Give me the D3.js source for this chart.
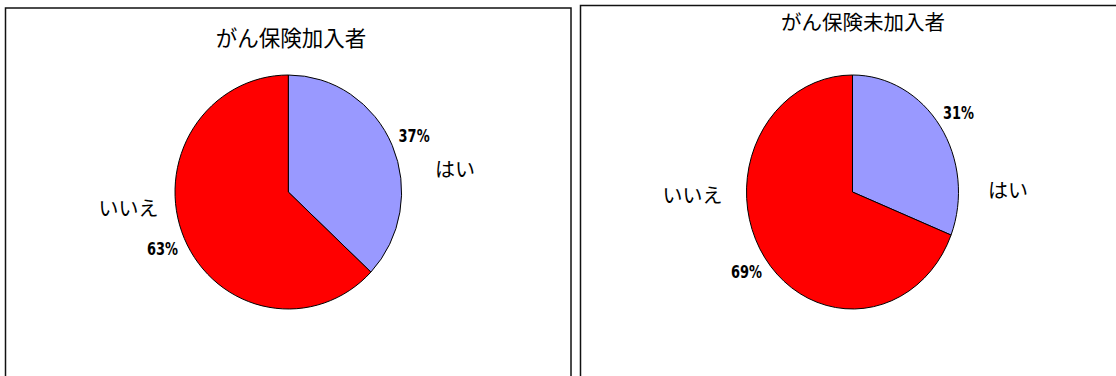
<!DOCTYPE html>
<html>
<head>
<meta charset="utf-8">
<script src="https://cdn.jsdelivr.net/npm/d3@7"></script>
<style>
  html, body { margin: 0; padding: 0; background: #fff; }
  svg { display: block; }
  .cjk { font-family: "Noto Sans CJK JP", "Noto Sans", sans-serif; fill: #000; }
  .pct { font-family: "DejaVu Sans", sans-serif; font-weight: bold; fill: #000; }
</style>
</head>
<body>
<svg id="chart" width="1116" height="376"></svg>
<script>
// Survey answers, split by whether the respondent holds cancer insurance
const categories = ["はい", "いいえ"];
const insuredValues = [37, 63];
const uninsuredValues = [31, 69];
const panelTitles = ["がん保険加入者", "がん保険未加入者"];
const sliceColors = ["#9999ff", "#ff0000"];

// Panel layout: frame, pie centre and radii (x radius, y radius), title and category label spots
const panels = [
  {
    values: insuredValues, title: panelTitles[0],
    frame: { x: 5.5, y: 8, w: 565.5, h: 380 },
    cx: 288.3, cy: 192, rx: 113.3, ry: 117,
    titleX: 291, titleY: 46, titleSize: 21.5,
    catPos: [[455, 170], [128.5, 209]]
  },
  {
    values: uninsuredValues, title: panelTitles[1],
    frame: { x: 580.5, y: 5.5, w: 560, h: 380 },
    cx: 852.5, cy: 192, rx: 106, ry: 117,
    titleX: 863, titleY: 30, titleSize: 20.5,
    catPos: [[1008, 191], [692.5, 196]]
  }
];

const svg = d3.select("#chart");

const pie = d3.pie().sort(null).value(d => d);

panels.forEach(p => {
  svg.append("rect")
    .attr("x", p.frame.x).attr("y", p.frame.y)
    .attr("width", p.frame.w).attr("height", p.frame.h)
    .attr("fill", "none").attr("stroke", "#111").attr("stroke-width", 1.5);

  svg.append("text").attr("class", "cjk")
    .attr("x", p.titleX).attr("y", p.titleY)
    .attr("text-anchor", "middle")
    .style("font-size", p.titleSize + "px")
    .text(p.title);

  const arcs = pie(p.values);
  const arc = d3.arc().innerRadius(0).outerRadius(p.ry);
  const labelArc = d3.arc().innerRadius(p.ry * 1.21).outerRadius(p.ry * 1.21);
  const sx = p.rx / p.ry;

  const g = svg.append("g")
    .attr("transform", `translate(${p.cx},${p.cy}) scale(${sx},1)`);

  g.selectAll("path").data(arcs).join("path")
    .attr("d", arc)
    .attr("fill", (d, i) => sliceColors[i])
    .attr("stroke", "#000")
    .attr("stroke-width", 1)
    .attr("vector-effect", "non-scaling-stroke")
    .attr("stroke-linejoin", "round");

  // Percentage labels sit just outside each slice, along its middle angle
  arcs.forEach(d => {
    const [lx, ly] = labelArc.centroid(d);
    svg.append("text").attr("class", "pct")
      .attr("x", p.cx + lx * sx).attr("y", p.cy + ly)
      .attr("text-anchor", "middle")
      .attr("dy", "0.36em")
      .attr("textLength", 31)
      .attr("lengthAdjust", "spacingAndGlyphs")
      .style("font-size", "18.5px")
      .text(d.data + "%");
  });

  categories.forEach((c, i) => {
    svg.append("text").attr("class", "cjk")
      .attr("x", p.catPos[i][0]).attr("y", p.catPos[i][1])
      .attr("text-anchor", "middle")
      .attr("dy", "0.36em")
      .style("font-size", "20px")
      .text(c);
  });
});
</script>
</body>
</html>
